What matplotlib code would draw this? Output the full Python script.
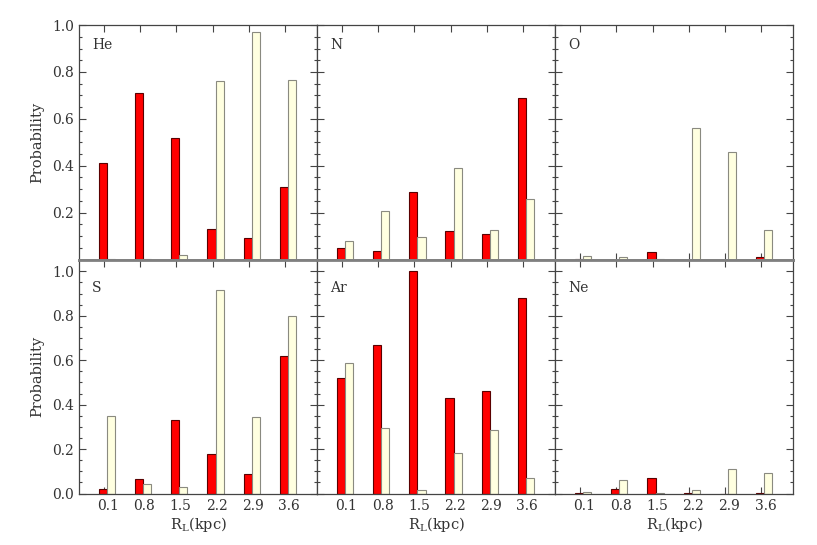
import numpy as np
import matplotlib
matplotlib.use("Agg")
import matplotlib.pyplot as plt
from matplotlib.ticker import MultipleLocator, FixedLocator, NullFormatter

# distance bins (kpc)
rl_labels = ["0.1", "0.8", "1.5", "2.2", "2.9", "3.6"]
elements = ["He", "N", "O", "S", "Ar", "Ne"]

# red bars
red_vals = {
    "He": [0.41, 0.71, 0.52, 0.13, 0.09, 0.31],
    "N":  [0.05, 0.035, 0.29, 0.12, 0.11, 0.69],
    "O":  [0.004, 0.0, 0.03, 0.0, 0.0, 0.01],
    "S":  [0.02, 0.065, 0.33, 0.18, 0.09, 0.62],
    "Ar": [0.52, 0.67, 1.0, 0.43, 0.46, 0.88],
    "Ne": [0.004, 0.022, 0.07, 0.001, 0.0, 0.004],
}
# pale bars
pale_vals = {
    "He": [0.003, 0.002, 0.02, 0.76, 0.97, 0.765],
    "N":  [0.08, 0.205, 0.095, 0.39, 0.125, 0.26],
    "O":  [0.014, 0.01, 0.003, 0.56, 0.457, 0.125],
    "S":  [0.35, 0.045, 0.03, 0.918, 0.344, 0.80],
    "Ar": [0.587, 0.294, 0.015, 0.184, 0.287, 0.068],
    "Ne": [0.009, 0.06, 0.003, 0.018, 0.112, 0.091],
}

plt.rcParams['font.family'] = ['DejaVu Serif']
plt.rcParams['mathtext.fontset'] = 'dejavuserif'

fig, axes = plt.subplots(2, 3, figsize=(8.17, 5.45), dpi=100)
fig.subplots_adjust(left=0.0967, right=0.971, top=0.954, bottom=0.0936,
                    wspace=0, hspace=0)

x = np.arange(len(rl_labels))
w = 0.225
txt = '#333333'

for k, el in enumerate(elements):
    ax = axes[k // 3, k % 3]
    row = k // 3
    ax.bar(x - 0.03, red_vals[el], width=w, color='#ff0000',
           edgecolor='#5a0000', linewidth=0.8, zorder=2)
    ax.bar(x + 0.195, pale_vals[el], width=w, color='#ffffe0',
           edgecolor='#8a8a80', linewidth=0.8, zorder=2)
    ax.set_xlim(-0.69, 5.89)
    if row == 0:
        ax.set_ylim(0, 1.0)
        ax.set_yticks([0.2, 0.4, 0.6, 0.8, 1.0])
    else:
        ax.set_ylim(-0.002, 1.053)
        ax.set_yticks([0.0, 0.2, 0.4, 0.6, 0.8, 1.0])
    ax.yaxis.set_minor_locator(MultipleLocator(0.05))
    ax.set_yticklabels(["%.1f" % v for v in ax.get_yticks()])
    ax.tick_params(axis='both', which='both', direction='in',
                   top=True, right=True, colors='#444444', labelcolor=txt,
                   labelsize=10, width=0.8)
    ax.tick_params(axis='both', which='major', length=5)
    ax.tick_params(axis='y', which='minor', length=2.5)

    # tick marks at bins, labels centred under the bar pair
    ax.xaxis.set_major_locator(FixedLocator(x))
    ax.xaxis.set_major_formatter(NullFormatter())
    ax.xaxis.set_minor_locator(FixedLocator(x + 0.12))
    ax.tick_params(axis='x', which='minor', length=0, top=False)
    if row == 1:
        ax.set_xticklabels(rl_labels, minor=True)
        ax.set_xlabel(r'R$_{\rm L}$(kpc)', fontsize=10.5, color=txt, labelpad=2)
    else:
        ax.set_xticklabels([], minor=True)

    if k % 3 != 0:
        ax.set_yticklabels([])
    else:
        ax.set_ylabel('Probability', fontsize=10.5, color=txt, labelpad=6)

    for s in ax.spines.values():
        s.set_color('#444444')
        s.set_linewidth(0.9)
    if row == 0:
        ax.spines['bottom'].set_color('#808080')
        ax.spines['bottom'].set_linewidth(2.0)
    else:
        ax.spines['top'].set_color('#808080')
        ax.spines['top'].set_linewidth(2.0)

    ax.text(0.055, 0.915 if row == 0 else 0.88, el, transform=ax.transAxes,
            fontsize=10, color=txt, ha='left', va='center')

fig.savefig('out.png', dpi=100)
